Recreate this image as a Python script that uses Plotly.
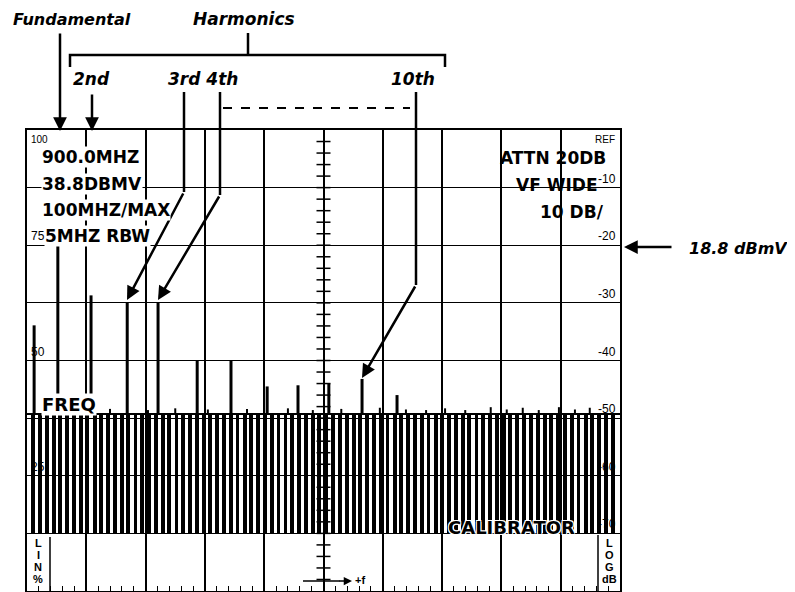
import plotly.graph_objects as go

# ---------------- data ----------------
# frequency axis: 0..1000 MHz (100 MHz/div), level axis: dB relative to REF (38.8 dBmV)
peak_freq = [12, 52, 108, 169, 221, 287, 344, 405, 457, 509, 565, 624]
peak_db = [-33.9, -20.0, -28.7, -30.0, -30.0, -40.0, -40.0, -44.5, -44.3, -44.0, -43.2, -46.0]

bump_freq = [140, 204, 250, 305, 371, 440, 482, 530, 595, 639, 673, 705, 739, 782, 809, 836, 863, 897, 924, 949]
bump_db = [-48.4, -48.6, -48.3, -48.5, -48.4, -48.3, -48.6, -48.4, -48.2, -48.5, -48.6, -48.3, -48.6,
           -48.1, -48.5, -48.2, -48.6, -48.1, -48.5, -48.2]

comb_freq = [10, 22, 33, 45, 56, 68, 79, 91, 102, 114, 125, 137, 148, 160, 171, 183, 194, 206, 217, 229,
             240, 252, 263, 275, 286, 298, 309, 321, 332, 344, 355, 367, 378, 390, 401, 413, 424, 436,
             447, 459, 470, 482, 493, 505, 516, 528, 539, 551, 562, 574, 585, 597, 608, 620, 631, 643,
             654, 666, 677, 689, 700, 712, 723, 735, 746, 758, 769, 781, 792, 804, 815, 827, 838, 850,
             861, 873, 884, 896, 907, 919, 930, 942, 953, 965, 976, 988]
comb_top = -49.3
comb_base = -70.1
noise_floor = -49.3

right_labels = ["-10", "-20", "-30", "-40", "-50", "-60", "-70"]
right_levels = [-10, -20, -30, -40, -50, -60, -70]
left_labels = ["75", "50", "25"]
left_levels = [-20, -40, -60]
center_tick_levels = list(range(-78, 0, 2))
lin_letters = ["L", "I", "N", "%"]
log_letters = ["L", "O", "G", "dB"]

# ---------------- helpers (page pixel -> paper) ----------------
O = 8  # page body margin of the browser
L, R, T, B = 27, 620, 130, 591
W, H = 795, 592


def fx(p):
    return (p - L) / (R - L)


def fy(p):
    return (B - p) / (B - T)


BLACK = "black"
fig = go.Figure()

# comb of calibrator lines
fig.add_trace(go.Bar(x=comb_freq, y=[comb_top - comb_base] * len(comb_freq), base=comb_base,
                     width=6.5, marker=dict(color=BLACK, line=dict(width=0)), hoverinfo="skip"))

# spectral lines (harmonics)
px_, py_ = [], []
for f, d in zip(peak_freq, peak_db):
    px_ += [f, f, None]
    py_ += [noise_floor, d, None]
fig.add_trace(go.Scatter(x=px_, y=py_, mode="lines", line=dict(color=BLACK, width=3), hoverinfo="skip"))

bx, by = [], []
for f, d in zip(bump_freq, bump_db):
    bx += [f, f, None]
    by += [noise_floor, d, None]
fig.add_trace(go.Scatter(x=bx, y=by, mode="lines", line=dict(color=BLACK, width=2), hoverinfo="skip"))

# center graticule ticks
fig.add_trace(go.Scatter(x=[500] * len(center_tick_levels), y=center_tick_levels, mode="markers",
                         marker=dict(symbol="line-ew", size=10, line=dict(color=BLACK, width=1.5)),
                         hoverinfo="skip"))

shapes = []
# comb top line
shapes.append(dict(type="line", xref="paper", yref="y", x0=0, x1=1, y0=comb_top, y1=comb_top,
                   line=dict(color=BLACK, width=2)))
# LIN / LOG boxes
shapes.append(dict(type="line", xref="paper", yref="paper", x0=fx(50), x1=fx(50), y0=fy(537), y1=fy(591),
                   line=dict(color=BLACK, width=1.5)))
shapes.append(dict(type="line", xref="paper", yref="paper", x0=fx(598), x1=fx(598), y0=fy(535), y1=fy(591),
                   line=dict(color=BLACK, width=1.5)))
# +f arrow shaft
shapes.append(dict(type="line", xref="paper", yref="paper", x0=fx(303), x1=fx(340), y0=fy(581), y1=fy(581),
                   line=dict(color=BLACK, width=1.5)))
# harmonics bracket
shapes.append(dict(type="path", xref="paper", yref="paper",
                   path=f"M {fx(70)},{fy(67)} L {fx(70)},{fy(55)} L {fx(445)},{fy(55)} L {fx(445)},{fy(67)}",
                   line=dict(color=BLACK, width=2.5)))
shapes.append(dict(type="line", xref="paper", yref="paper", x0=fx(248), x1=fx(248), y0=fy(33), y1=fy(55),
                   line=dict(color=BLACK, width=2.5)))
# dashed range line
shapes.append(dict(type="line", xref="paper", yref="paper", x0=fx(223), x1=fx(410), y0=fy(108), y1=fy(108),
                   line=dict(color=BLACK, width=2, dash="dash")))
# leader lines (vertical parts)
for xv, y0, y1 in [(184, 92, 192), (220, 92, 195), (416, 92, 285)]:
    shapes.append(dict(type="line", xref="paper", yref="paper", x0=fx(xv), x1=fx(xv), y0=fy(y0), y1=fy(y1),
                       line=dict(color=BLACK, width=2.5)))

ann = []


def arrow(tip, tail, w=2.5):
    ann.append(dict(xref="paper", yref="paper", x=fx(tip[0]), y=fy(tip[1]), ax=tail[0] - tip[0],
                    ay=tail[1] - tip[1], text="", showarrow=True, arrowhead=2, arrowsize=1.1,
                    arrowwidth=w, arrowcolor=BLACK, standoff=0))


arrow((60, 131), (60, 32))
arrow((92, 131), (92, 93))
arrow((127, 300), (184, 192))
arrow((158, 300), (220, 195))
arrow((362, 378), (416, 285))
arrow((624, 247), (673, 247))
arrow((352, 581), (338, 581), w=1.5)

OUT = dict(family="DejaVu Sans", size=17, color=BLACK, weight="bold", style="italic")
SCR = dict(family="DejaVu Sans", size=17, color=BLACK, weight="bold")
SMALL = dict(family="Liberation Sans", size=12, color=BLACK)


def text(t, x, y, font, xanchor="left", bg=None, yanchor="middle"):
    d = dict(xref="paper", yref="paper", x=fx(x), y=fy(y), text=t, showarrow=False, font=font,
             xanchor=xanchor, yanchor=yanchor, borderpad=0)
    if bg:
        d["bgcolor"] = bg
    ann.append(d)


text("Fundamental", 12, 19, dict(OUT, size=16))
text("Harmonics", 192, 19, OUT)
text("2nd", 72, 79, OUT)
text("3rd 4th", 167, 79, OUT)
text("10th", 390, 79, OUT)
text("18.8 dBmV", 688, 248, dict(OUT, size=16))

text("900.0MHZ", 41, 157, SCR, bg="white")
text("38.8DBMV", 41, 184, SCR, bg="white")
text("100MHZ/MAX", 41, 210, SCR, bg="white")
text("5MHZ RBW", 44, 236, SCR, bg="white")
text("ATTN 20DB", 607, 158, SCR, xanchor="right")
text("FREQ", 41, 404, dict(SCR, size=18), bg="white")

# small scale labels
text("REF", 616, 140, dict(SMALL, size=10))
ann[-1]["xanchor"] = "right"
for lab, lev in zip(right_labels, right_levels):
    ann.append(dict(xref="paper", yref="y", x=fx(618), y=lev, text=lab, showarrow=False, font=SMALL,
                    xanchor="right", yanchor="bottom", yshift=0))
text("100", 30, 140, dict(SMALL, size=10))
for lab, lev in zip(left_labels, left_levels):
    ann.append(dict(xref="paper", yref="y", x=fx(29), y=lev, text=lab, showarrow=False, font=SMALL,
                    xanchor="left", yanchor="bottom"))

text("VF WIDE", 599, 185, SCR, xanchor="right")
text("10 DB/", 605, 212, SCR, xanchor="right")
text("CALIBRATOR", 447, 527,
     dict(SCR, size=18, shadow="1px 1px 0 white, -1px -1px 0 white, 1px -1px 0 white, -1px 1px 0 white"))

LAB = dict(family="Liberation Sans", size=11, color=BLACK, weight="bold")
for i, (a, b) in enumerate(zip(lin_letters, log_letters)):
    yy = 543 + 12 * i
    ann.append(dict(xref="paper", yref="paper", x=fx(38), y=fy(yy), text=a, showarrow=False,
                    font=LAB, xanchor="center", yanchor="middle"))
    ann.append(dict(xref="paper", yref="paper", x=fx(609), y=fy(yy), text=b, showarrow=False,
                    font=LAB, xanchor="center", yanchor="middle"))
text("+f", 354, 580, dict(LAB, size=11))

# the browser page adds an 8 px body margin: shrink the figure and shift margins by it
fig.update_layout(
    width=W - O, height=H - O,
    margin=dict(l=L - O, r=W - R, t=T - O, b=H - B),
    paper_bgcolor="white", plot_bgcolor="white",
    showlegend=False, bargap=0,
    shapes=shapes, annotations=ann,
    xaxis=dict(range=[0, 1000], dtick=100, showgrid=True, gridcolor=BLACK, gridwidth=1.5,
               showline=True, linecolor=BLACK, linewidth=2, mirror=True, zeroline=False,
               ticks="inside", ticklen=5, tickcolor=BLACK, showticklabels=False,
               minor=dict(ticks="inside", ticklen=5, dtick=20, tickcolor=BLACK, showgrid=False)),
    yaxis=dict(range=[-80, 0], dtick=10, showgrid=True, gridcolor=BLACK, gridwidth=1,
               showline=True, linecolor=BLACK, linewidth=2, mirror=True, zeroline=False,
               ticks="", showticklabels=False),
)

fig.write_html("out.html")
